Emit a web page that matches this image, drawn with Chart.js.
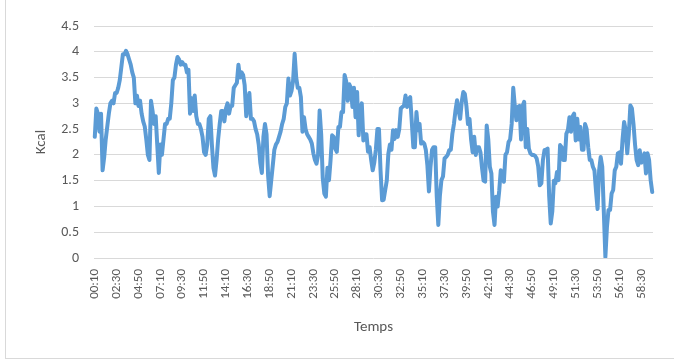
<!DOCTYPE html>
<html><head><meta charset="utf-8">
<script src="https://cdn.jsdelivr.net/npm/chart.js@4"></script>
<style>
html,body{margin:0;padding:0;background:#fff;}
#wrap{position:relative;width:674px;height:360px;overflow:hidden;background:#fff;}
#frame{position:absolute;left:5px;top:-2px;width:700px;height:361px;border-left:1px solid #d9d9d9;border-bottom:1px solid #d9d9d9;box-sizing:border-box;}
canvas{position:absolute;left:0;top:0;}
</style></head><body>
<div id="wrap"><div id="frame"></div><canvas id="c" width="674" height="360"></canvas></div>
<script>
// Kcal every 10 s, starting at 00:10
const kcal = [
2.35,2.9,2.8,2.45,2.8,1.7,1.95,2.3,2.55,2.8,
3.0,3.05,3.0,3.2,3.2,3.3,3.45,3.7,3.95,3.95,
4.02,3.95,3.85,3.75,3.6,3.5,3.0,3.15,2.95,3.05,
2.8,2.65,2.55,2.3,2.0,1.9,3.05,2.85,2.6,2.75,
2.2,1.65,2.2,2.0,2.3,2.6,2.6,2.7,2.7,3.0,
3.45,3.5,3.75,3.9,3.85,3.75,3.8,3.75,3.75,3.6,
3.65,2.8,3.1,2.85,3.15,2.75,2.6,2.6,2.5,2.35,
2.05,2.0,2.2,2.7,2.75,2.2,1.75,1.6,1.9,2.3,
2.6,2.85,2.85,2.65,2.9,3.0,2.8,2.95,2.95,3.3,
3.35,3.4,3.75,3.5,3.6,3.55,3.35,2.75,2.95,3.2,
2.7,2.7,2.65,2.5,2.4,2.2,1.85,1.65,2.35,2.6,
2.4,1.6,1.2,1.5,1.8,2.1,2.2,2.25,2.35,2.45,
2.6,2.7,2.93,3.0,3.48,3.15,3.24,3.44,3.96,3.5,
3.3,3.3,3.12,2.45,2.73,2.5,2.4,2.35,2.3,2.22,
2.03,1.9,1.83,2.0,2.86,2.4,1.55,1.25,1.19,1.75,
1.51,1.9,2.38,2.35,2.12,2.06,2.54,2.54,2.83,2.83,
3.55,3.43,3.05,3.37,3.3,2.93,3.3,2.73,3.22,2.38,
2.9,3.0,2.28,2.4,2.4,2.06,2.15,1.9,1.7,1.85,
2.1,2.5,2.5,1.7,1.12,1.13,1.32,1.5,2.02,2.2,
2.1,2.48,2.31,2.48,2.35,2.5,2.9,2.93,2.95,3.15,
2.93,3.08,3.12,2.65,2.15,2.15,2.83,2.48,2.6,2.22,
2.25,2.22,2.1,1.8,1.29,1.77,2.1,2.15,2.15,1.2,
0.64,1.2,1.51,1.58,1.93,1.96,2.0,2.09,2.1,2.41,
2.6,2.86,3.06,2.86,2.7,3.03,3.22,3.18,2.95,2.6,
2.7,2.3,2.05,2.35,2.0,2.15,2.15,2.05,1.75,1.5,
1.48,2.57,2.3,1.77,1.64,0.9,0.64,1.19,1.0,1.3,
1.7,1.6,1.48,2.0,2.05,2.25,2.3,2.6,3.3,2.95,
2.67,2.93,2.95,2.3,2.95,3.03,2.15,2.5,2.12,2.03,
2.0,2.0,1.98,1.93,1.77,1.41,1.45,1.9,2.09,2.1,
2.12,1.2,0.67,0.9,1.5,1.45,1.67,1.51,2.19,2.15,
1.9,1.9,2.41,2.48,2.73,2.45,2.75,2.8,2.28,2.7,
2.3,2.54,2.1,2.1,2.6,2.5,2.15,1.9,1.9,1.77,
1.7,1.3,0.95,1.7,1.96,1.77,0.9,0.02,0.6,0.93,
0.93,1.25,1.32,1.7,1.77,2.03,2.05,1.83,2.3,2.64,
2.48,2.03,2.4,2.96,2.9,2.6,2.2,1.9,1.8,2.09,
1.85,1.9,2.03,1.64,2.03,1.9,1.51,1.28
];
const tickLabels = ["00:10","02:30","04:50","07:10","09:30","11:50","14:10","16:30","18:50","21:10","23:30","25:50","28:10","30:30","32:50","35:10","37:30","39:50","42:10","44:30","46:50","49:10","51:30","53:50","56:10","58:30"];
const yMin = 0, yMax = 4.5, yStep = 0.5;
const xTitle = "Temps", yTitle = "Kcal";

function fmt(sec){const m=Math.floor(sec/60), s=sec%60;return String(m).padStart(2,'0')+':'+String(s).padStart(2,'0');}
const times = kcal.map((_, i) => fmt((i + 1) * 10));

const FONT = "Carlito, Lato, 'Open Sans', sans-serif";
const TXT = '#595959';

new Chart(document.getElementById('c'), {
  type: 'line',
  data: {
    labels: times,
    datasets: [{
      data: kcal,
      borderColor: '#5B9BD5',
      borderWidth: 4,
      pointRadius: 0,
      pointHoverRadius: 0,
      tension: 0,
      fill: false,
      borderJoinStyle: 'round',
      borderCapStyle: 'round'
    }]
  },
  options: {
    responsive: false,
    animation: false,
    devicePixelRatio: 1,
    layout: { padding: { left: 28, right: 21, top: 26, bottom: 20 } },
    plugins: { legend: { display: false }, tooltip: { enabled: false } },
    scales: {
      x: {
        type: 'category',
        offset: true,
        grid: { display: false, drawTicks: false },
        border: { display: false },
        ticks: {
          autoSkip: false, minRotation: 90, maxRotation: 90, padding: 11,
          color: TXT, font: { family: FONT, size: 13 },
          callback: function(v) { const l = this.getLabelForValue(v); return tickLabels.includes(l) ? l : null; }
        },
        title: { display: true, text: xTitle, color: TXT, font: { family: FONT, size: 15 }, padding: { top: 4, bottom: 4 } },
        afterFit: s => { s.height = 82; }
      },
      y: {
        min: yMin, max: yMax,
        grid: { color: '#d9d9d9', lineWidth: 1, drawTicks: false },
        border: { display: false },
        ticks: { stepSize: yStep, padding: 15, color: TXT, font: { family: FONT, size: 14 },
          callback: v => String(Math.round(v * 10) / 10) },
        title: { display: true, text: yTitle, color: TXT, font: { family: FONT, size: 15 }, padding: { top: 4, bottom: 4 } },
        afterFit: s => { s.width = 66; }
      }
    }
  }
});
</script>
</body></html>
